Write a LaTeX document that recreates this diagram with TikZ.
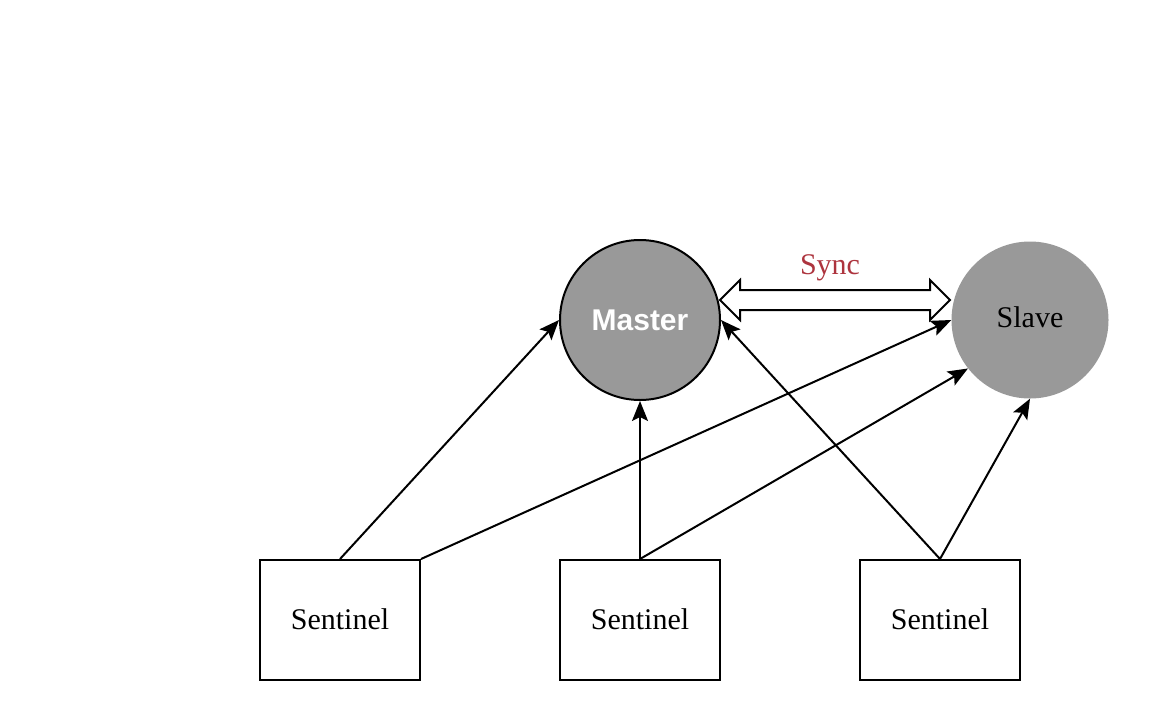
\documentclass[tikz,border=0pt]{standalone}
\usepackage{fontspec}
\setmainfont{Liberation Serif}
\newfontfamily\mastersans{Liberation Sans}
\usetikzlibrary{arrows.meta}
\definecolor{nodegray}{RGB}{153,153,153}
\definecolor{syncred}{RGB}{173,52,62}
\begin{document}
\begin{tikzpicture}[x=1pt,y=-1pt,
  conn/.style={line width=2pt,-{Stealth[length=20pt,width=16pt,inset=4pt]}},
  sentbox/.style={draw,line width=2pt,minimum width=160pt,minimum height=120pt,inner sep=0pt,font=\fontsize{30}{34}\selectfont},
  roundnode/.style={circle,fill=nodegray,inner sep=0pt,minimum size=#1}
]
\useasboundingbox (0,0) rectangle (1150,720);
\node[roundnode=160pt,draw,line width=2pt,text=white,font=\mastersans\bfseries\fontsize{30}{34}\selectfont] (master) at (640,320) {Master};
\node[roundnode=157pt] (slave) at (1030,320) {};
\node[font=\fontsize{30}{34}\selectfont] (slavetext) at (1030,317) {Slave};
\node[sentbox] (s1) at (340,620) {\raisebox{2pt}{Sentinel}};
\node[sentbox] (s2) at (640,620) {\raisebox{2pt}{Sentinel}};
\node[sentbox] (s3) at (940,620) {\raisebox{2pt}{Sentinel}};
\node[text=syncred,font=\fontsize{30}{34}\selectfont] (sync) at (830,268) {Sync};
% hollow double arrow
\coordinate (sl) at (720,300);
\coordinate (sr) at (950,300);
\draw[line width=2pt,fill=white,line join=miter] (sl) -- ++(20,-20) -- ++(0,10) -- ++(190,0) -- ++(0,-10) -- (sr) -- ++(-20,20) -- ++(0,-10) -- ++(-190,0) -- ++(0,10) -- cycle;
% connectors
\draw[conn] (s1.north) -- (master.west);
\draw[conn] (s1.north east) -- (slave.west);
\draw[conn] (s2.north) -- (master.south);
\draw[conn] (s2.north) -- (slave.218);
\draw[conn] (s3.north) -- (master.east);
\draw[conn] (s3.north) -- (slave.south);
\end{tikzpicture}
\end{document}
